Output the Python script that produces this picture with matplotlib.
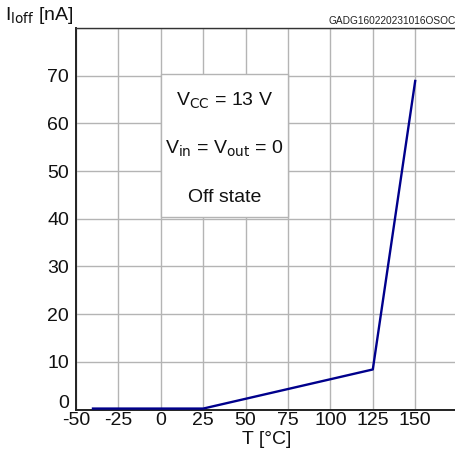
import numpy as np
import matplotlib.pyplot as plt
import matplotlib.transforms as mtransforms
from matplotlib.patches import Rectangle

plt.rcParams['font.family'] = ['Liberation Sans', 'DejaVu Sans']

temp = [-40, 25, 125, 150]
i_off = [0.2, 0.2, 8.4, 68.9]

xticks = [-50, -25, 0, 25, 50, 75, 100, 125, 150, 175]
xlabels = ['-50', '-25', '0', '25', '50', '75', '100', '125', '150', '']
yticks = [0, 10, 20, 30, 40, 50, 60, 70, 80]
ylabels = ['0', '10', '20', '30', '40', '50', '60', '70', '']

# Textbox mit Bedingungen
box_x = (0, 75)
box_y = (40.3, 70.3)
notes = [r'V$_{\rm CC}$ = 13 V', r'V$_{\rm in}$ = V$_{\rm out}$ = 0', 'Off state']
note_y = [64.7, 54.7, 44.4]

grid_col = '#b4b4b4'
line_col = '#00008c'
fs = 14

fig = plt.figure(figsize=(4.56, 4.59), dpi=100)
ax = fig.add_axes([0.1667, 0.1078, 0.8368, 0.8312])

ax.plot(temp, i_off, color=line_col, linewidth=1.7, zorder=4)

ax.set_xlim(-50, 175)
ax.set_ylim(0, 80)
ax.set_xticks(xticks)
ax.set_xticklabels(xlabels)
ax.set_yticks(yticks)
ax.set_yticklabels(ylabels)
ax.tick_params(length=0, labelsize=fs, colors='#111111')
ax.tick_params(axis='x', pad=2)
ax.tick_params(axis='y', pad=5)
ax.grid(True, color=grid_col, linewidth=1.0)
ax.set_axisbelow(True)

# die "0" an der y-Achse etwas anheben
lbl0 = ax.get_yticklabels()[0]
lbl0.set_transform(lbl0.get_transform() +
                   mtransforms.ScaledTranslation(0, 6 / 72, fig.dpi_scale_trans))

for s in ['left', 'bottom']:
    ax.spines[s].set_color('#222222')
    ax.spines[s].set_linewidth(1.4)
ax.spines['top'].set_color('#333333')
ax.spines['top'].set_linewidth(1.0)
ax.spines['right'].set_visible(False)

rect = Rectangle((box_x[0], box_y[0]), box_x[1] - box_x[0], box_y[1] - box_y[0],
                 facecolor='white', edgecolor=grid_col, linewidth=1.0, zorder=3)
ax.add_patch(rect)
for txt, yy in zip(notes, note_y):
    ax.text(sum(box_x) / 2, yy, txt, ha='center', va='center', fontsize=fs,
            color='#111111', zorder=5)

ax.set_xlabel('T [°C]', fontsize=fs, color='#111111', labelpad=1)
fig.text(0.012, 0.967, r'I$_{\rm loff}$ [nA]', fontsize=fs, color='#111111',
         ha='left', va='center')
fig.text(1.0, 0.944, 'GADG160220231016OSOC', fontsize=7.3, color='#222222',
         ha='right', va='bottom')

fig.savefig('out.png', dpi=100)
